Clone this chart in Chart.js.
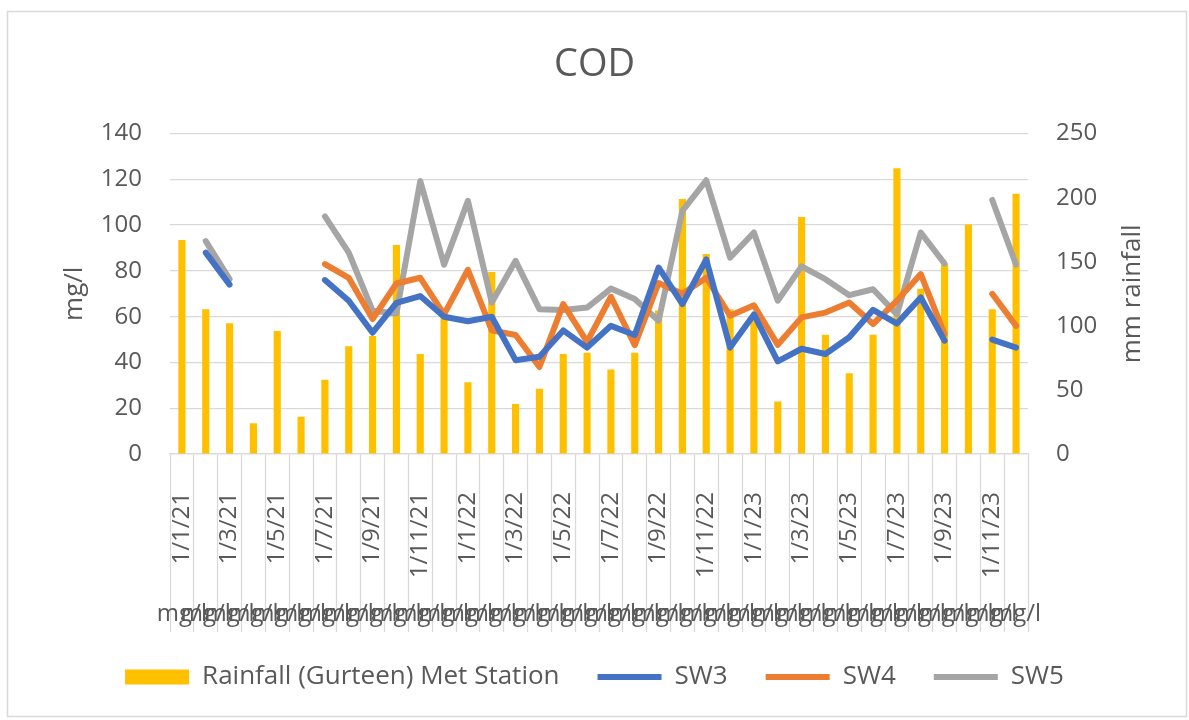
<!DOCTYPE html>
<html>
<head>
<meta charset="utf-8">
<script src="https://cdn.jsdelivr.net/npm/chart.js@4.4.1/dist/chart.umd.min.js"></script>
<style>
  body { margin: 0; background: #fff; }
</style>
</head>
<body>
<canvas id="cod" width="1189" height="720"></canvas>
<script>
// monthly sample dates (day/month/year)
const months = [
  '1/1/21', '1/2/21', '1/3/21', '1/4/21', '1/5/21', '1/6/21',
  '1/7/21', '1/8/21', '1/9/21', '1/10/21', '1/11/21', '1/12/21',
  '1/1/22', '1/2/22', '1/3/22', '1/4/22', '1/5/22', '1/6/22',
  '1/7/22', '1/8/22', '1/9/22', '1/10/22', '1/11/22', '1/12/22',
  '1/1/23', '1/2/23', '1/3/23', '1/4/23', '1/5/23', '1/6/23',
  '1/7/23', '1/8/23', '1/9/23', '1/10/23', '1/11/23', '1/12/23'
];
const unitLabel = 'mg/l';

// mm rainfall, right axis
const rainfall = [167, 113, 102, 24, 96, 29, 58, 84, 92, 163, 78, 107,
  56, 142, 39, 51, 78, 79, 66, 79, 112, 199, 156, 113,
  104, 41, 185, 93, 63, 93, 223, 129, 148, 179, 113, 203];

// COD mg/l, left axis (null = no sample)
const sw3 = [null, 88, 74, null, null, null, 76, 67, 53, 66, 69, 60,
  58, 60, 41, 42.5, 54, 46.5, 56, 52, 81.5, 65.5, 85, 46.5,
  61, 40.5, 46, 43.7, 51, 63, 57, 68.4, 49.5, null, 50, 46.5];
const sw4 = [null, null, null, null, null, null, 83, 77, 59, 74.5, 77, 61,
  80.5, 54, 52, 38, 65.5, 49, 68.7, 47.6, 74.7, 70, 77, 60.4,
  65, 47.7, 59.7, 61.8, 66.2, 56.8, 67, 78.6, 52.4, null, 70, 56];
const sw5 = [null, 93, 76.4, null, null, null, 103.8, 88, 62.6, 61.4, 119.3, 82.7,
  110.6, 66.2, 84.4, 63.3, 62.9, 64, 72.3, 67.7, 58.2, 106.2, 119.6, 85.8,
  96.8, 67, 82, 76.4, 69.4, 72, 61, 96.8, 83.2, null, 111, 82.7];

const grey = '#595959';
const font = 'Open Sans';

// frame, axis titles and the repeated unit row under the dates
const extras = {
  id: 'extras',
  beforeDraw(chart) {
    const ctx = chart.ctx;
    ctx.save();
    ctx.fillStyle = '#fff';
    ctx.fillRect(0, 0, chart.width, chart.height);
    ctx.strokeStyle = '#d9d9d9';
    ctx.lineWidth = 1.5;
    ctx.strokeRect(7.5, 11.5, 1179, 705);
    ctx.restore();
  },
  afterDraw(chart) {
    const ctx = chart.ctx;
    const area = chart.chartArea;
    const x = chart.scales.x;
    const midY = (area.top + area.bottom) / 2;
    ctx.save();
    ctx.fillStyle = grey;
    ctx.font = '26px "' + font + '"';
    ctx.textAlign = 'center';
    ctx.textBaseline = 'middle';
    [['mg/l', 75], ['mm rainfall', 1133]].forEach(([t, px]) => {
      ctx.save();
      ctx.translate(px, midY);
      ctx.rotate(-Math.PI / 2);
      ctx.fillText(t, 0, 0);
      ctx.restore();
    });
    ctx.font = '24px "' + font + '"';
    ctx.textBaseline = 'alphabetic';
    months.forEach((m, i) => {
      ctx.fillText(unitLabel, x.getPixelForValue(i), 621);
    });
    ctx.restore();
  }
};

new Chart(document.getElementById('cod'), {
  data: {
    labels: months,
    datasets: [
      {
        type: 'bar',
        label: 'Rainfall (Gurteen) Met Station',
        data: rainfall,
        yAxisID: 'y1',
        backgroundColor: '#FFC000',
        borderWidth: 0,
        barPercentage: 0.3,
        categoryPercentage: 1,
        pointStyle: 'rect',
        order: 1
      },
      {
        type: 'line', label: 'SW3', data: sw3, yAxisID: 'y',
        borderColor: '#4472C4', backgroundColor: '#4472C4',
        borderWidth: 6, pointRadius: 0, pointStyle: 'line',
        borderCapStyle: 'round', borderJoinStyle: 'round', spanGaps: false, order: 0
      },
      {
        type: 'line', label: 'SW4', data: sw4, yAxisID: 'y',
        borderColor: '#ED7D31', backgroundColor: '#ED7D31',
        borderWidth: 6, pointRadius: 0, pointStyle: 'line',
        borderCapStyle: 'round', borderJoinStyle: 'round', spanGaps: false, order: 0
      },
      {
        type: 'line', label: 'SW5', data: sw5, yAxisID: 'y',
        borderColor: '#A5A5A5', backgroundColor: '#A5A5A5',
        borderWidth: 6, pointRadius: 0, pointStyle: 'line',
        borderCapStyle: 'round', borderJoinStyle: 'round', spanGaps: false, order: 0
      }
    ]
  },
  options: {
    responsive: false,
    animation: false,
    devicePixelRatio: 1,
    layout: { padding: { left: 0, right: 0, top: 0, bottom: 20 } },
    plugins: {
      tooltip: { enabled: false },
      title: {
        display: true,
        text: 'COD',
        color: grey,
        font: { family: font, size: 38, weight: 'normal' },
        padding: { top: 42, bottom: 46 }
      },
      legend: {
        position: 'bottom',
        labels: {
          usePointStyle: true,
          pointStyleWidth: 64,
          boxHeight: 15,
          padding: 38,
          color: grey,
          font: { family: font, size: 26 },
          sort: (a, b) => a.datasetIndex - b.datasetIndex
        }
      }
    },
    scales: {
      x: {
        type: 'category',
        offset: true,
        grid: {
          offset: true,
          drawOnChartArea: false,
          drawTicks: true,
          tickLength: 178,
          tickColor: '#d9d9d9',
          tickWidth: 1.3
        },
        border: { color: '#d9d9d9', width: 1.3 },
        ticks: {
          autoSkip: false,
          minRotation: 90,
          maxRotation: 90,
          padding: -140,
          color: grey,
          font: { family: font, size: 24 },
          callback: function (v, i) { return i % 2 === 0 ? months[i] : ''; }
        },
        afterFit(scale) { scale.height = 172; }
      },
      y: {
        position: 'left',
        min: 0, max: 140,
        ticks: { stepSize: 20, padding: 28, color: grey, font: { family: font, size: 24 } },
        grid: { color: '#d9d9d9', lineWidth: 1.3, drawTicks: false },
        border: { display: false },
        afterFit(scale) { scale.width = 170; }
      },
      y1: {
        position: 'right',
        min: 0, max: 250,
        ticks: { stepSize: 50, padding: 28, color: grey, font: { family: font, size: 24 } },
        grid: { drawOnChartArea: false, drawTicks: false },
        border: { display: false },
        afterFit(scale) { scale.width = 161; }
      }
    }
  },
  plugins: [extras]
});
</script>
</body>
</html>
